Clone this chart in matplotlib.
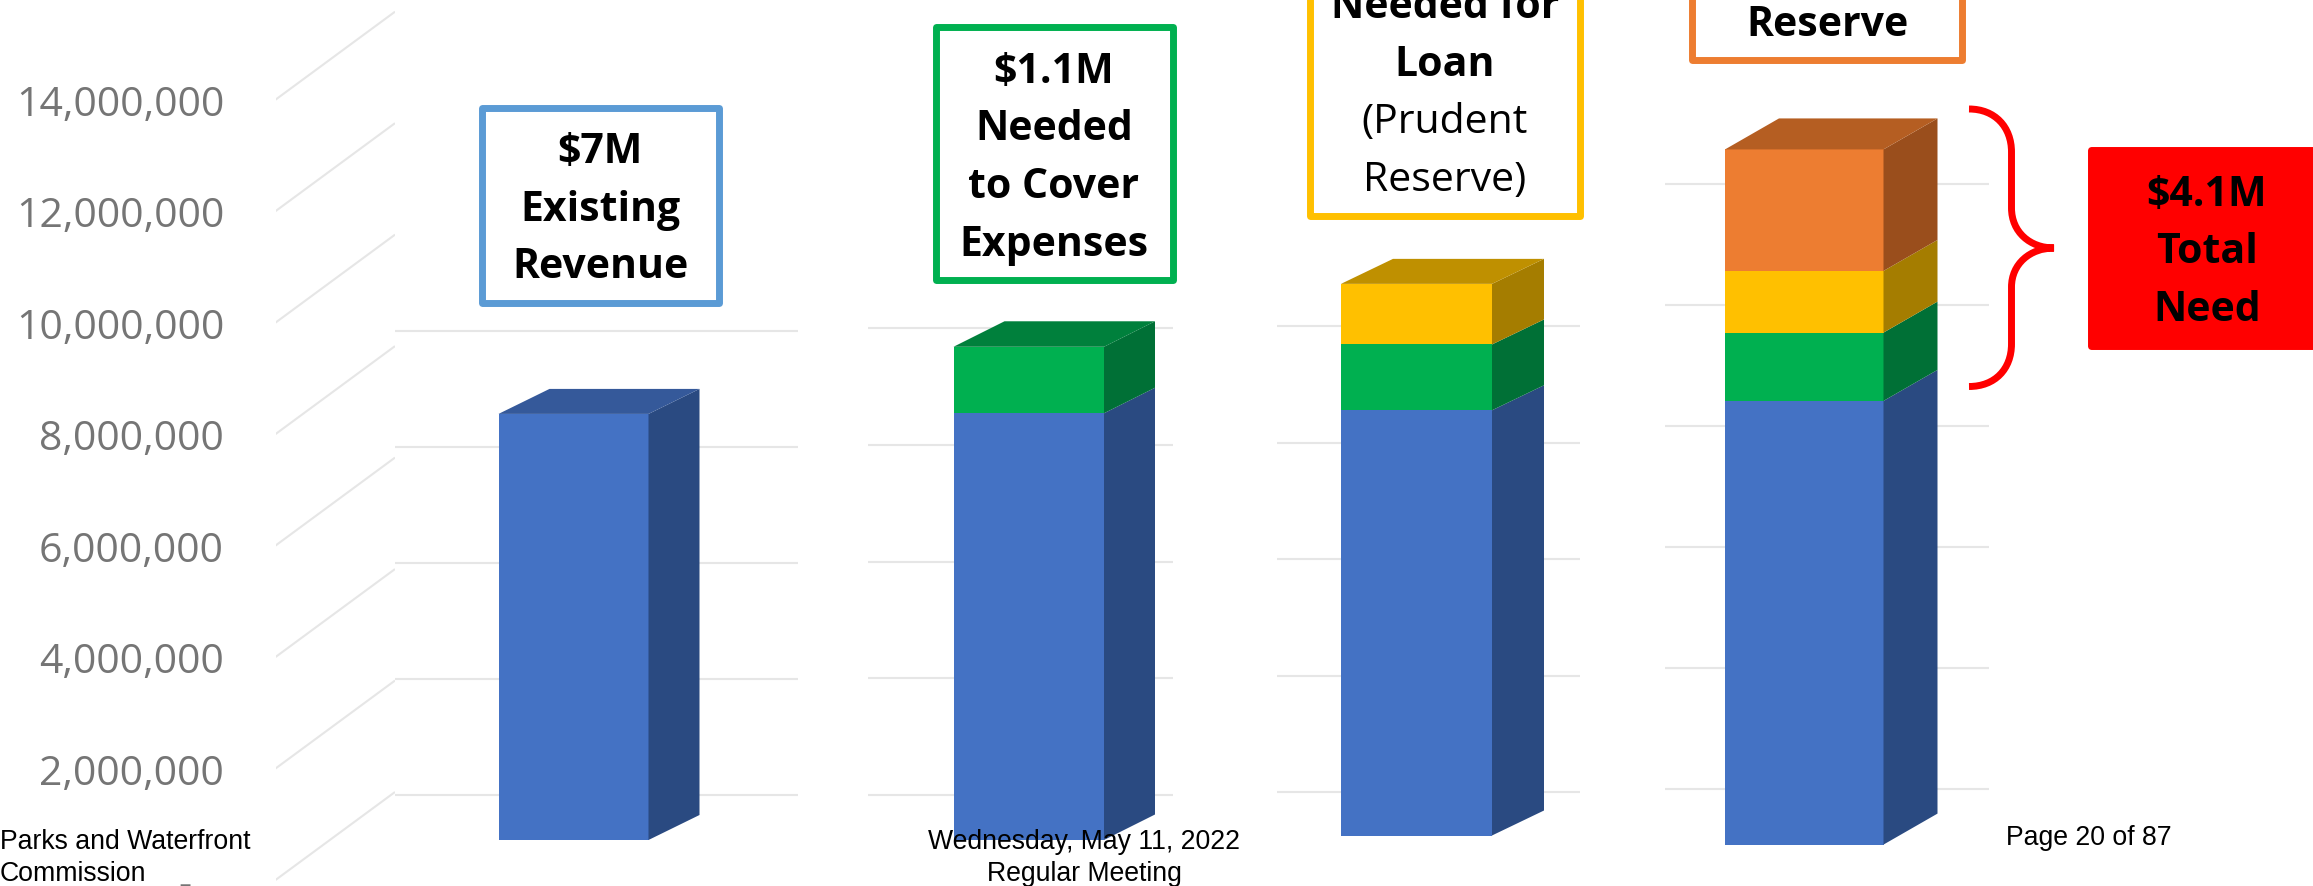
import numpy as np
import matplotlib
matplotlib.use("Agg")
import matplotlib.pyplot as plt
from matplotlib.patches import PathPatch, Rectangle
from matplotlib.path import Path

W, H = 2313, 887

# values, one entry per pasted chart
existing_revenue = [7340000, 7320000, 7300000, 7340000]
cover_expenses = [0, 1140000, 1130000, 1130000]
loan_reserve = [0, 0, 1040000, 1020000]
extra_reserve = [0, 0, 0, 2010000]

axis_ticks = [0, 2000000, 4000000, 6000000, 8000000, 10000000, 12000000, 14000000]
axis_labels = ["-   ", "2,000,000", "4,000,000", "6,000,000", "8,000,000",
               "10,000,000", "12,000,000", "14,000,000"]
panel_grid_ticks = [
    [0, 2000000, 4000000, 6000000, 8000000],
    [0, 2000000, 4000000, 6000000, 8000000],
    [0, 2000000, 4000000, 6000000, 8000000],
    [0, 2000000, 4000000, 6000000, 8000000, 10000000],
]

# layout of each pasted chart, in pixels from top left
# grid x0, grid x1, bar left, bar right, base y, wall zero y, px per 2M, depth x, depth y
panels = [
    (395, 798, 498.5, 648.5, 841, 796.4, 116.1, 51, 25),
    (868, 1173, 953.5, 1104, 841, 795.8, 116.6, 51, 25.5),
    (1277, 1580, 1341, 1492, 836.5, 793, 116.5, 52, 25),
    (1665, 1989, 1725, 1883.5, 845.6, 789.6, 120.9, 54, 31),
]

front_colors = ["#4472C4", "#00B050", "#FFC000", "#ED7D31"]
side_colors = ["#2A4A81", "#007036", "#A57D00", "#9A4E1C"]
top_colors = ["#35599A", "#00803C", "#BF9000", "#B55E22"]
GRID = "#E6E6E6"
TICK_GREY = "#757575"

fig = plt.figure(figsize=(W / 100, H / 100), dpi=100, facecolor="white")

# left axis with its slanted floor/wall lines
axis_x0, axis_x1 = 275.5, 395
axis_zero_y, axis_14m_y = 881, 100.7
axis_px = (axis_zero_y - axis_14m_y) / 14000000
ax0 = fig.add_axes([axis_x0 / W, 0, (axis_x1 - axis_x0) / W, 1])
ax0.set_xlim(axis_x0, axis_x1)
ax0.set_ylim((axis_zero_y - H) / axis_px, axis_zero_y / axis_px)
rise = 88 / axis_px
for t in axis_ticks:
    ax0.plot([axis_x0, axis_x1], [t, t + rise], color=GRID, lw=1.5, solid_capstyle="butt")
ax0.set_xticks([])
ax0.set_yticks(axis_ticks)
ax0.set_yticklabels(axis_labels, fontsize=29.5, color=TICK_GREY, family="Open Sans")
ax0.tick_params(axis="y", length=0, pad=37)
ax0.patch.set_alpha(0)
for s in ax0.spines.values():
    s.set_visible(False)

# the four stacked pseudo 3d bars
for i, p in enumerate(panels):
    gx0, gx1, bl, br, base, wall0, px2m, dx, dy = p
    per = px2m / 2000000
    ax = fig.add_axes([gx0 / W, 0, (gx1 - gx0) / W, 1])
    ax.set_xlim(gx0, gx1)
    ax.set_ylim((base - H) / per, base / per)
    ax.axis("off")
    lift = (base - wall0) / per
    ax.hlines(np.array(panel_grid_ticks[i]) + lift, gx0, gx1, color=GRID, lw=1.5, zorder=1)

    dv = dy / per
    bottom = 0
    series = [existing_revenue[i], cover_expenses[i], loan_reserve[i], extra_reserve[i]]
    for j, v in enumerate(series):
        if v == 0:
            continue
        ax.bar((bl + br) / 2, v, width=br - bl, bottom=bottom, color=front_colors[j],
               linewidth=0, zorder=3)
        ax.fill([br, br + dx, br + dx, br],
                [bottom, bottom + dv, bottom + v + dv, bottom + v],
                color=side_colors[j], linewidth=0, zorder=3)
        bottom += v
        top_col = top_colors[j]
    ax.fill([bl, bl + dx, br + dx, br], [bottom, bottom + dv, bottom + dv, bottom],
            color=top_col, linewidth=0, zorder=3)

# overlay for the callouts and page footer, pixel coordinates
ov = fig.add_axes([0, 0, 1, 1])
ov.set_xlim(0, W)
ov.set_ylim(H, 0)
ov.axis("off")
ov.patch.set_alpha(0)


def callout(x0, y0, x1, y1, edge, face="white"):
    ov.add_patch(Rectangle((x0, y0), x1 - x0, y1 - y0, facecolor=face, edgecolor=edge,
                           lw=5, joinstyle="round", clip_on=True))


def label(x, y, s, weight="bold"):
    ov.text(x, y + 4, s, ha="center", va="center", fontsize=29.5, fontweight=weight,
            family="Open Sans", color="black")


callout(482, 108.5, 719, 303.5, "#5B9BD5")
for y, s in zip([149, 206.5, 264], ["$7M", "Existing", "Revenue"]):
    label(600, y, s)

callout(936, 28, 1173, 281, "#00B050")
for y, s in zip([68, 125.5, 184, 241.5], ["$1.1M", "Needed", "to Cover", "Expenses"]):
    label(1054, y, s)

callout(1310, -20, 1579.5, 216.5, "#FFC000")
label(1445, 3, "Needed for")
label(1445, 61, "Loan")
label(1445, 119, "(Prudent", "normal")
label(1445, 176.5, "Reserve)", "normal")

callout(1691.5, -20, 1961.5, 60.5, "#ED7D31")
label(1827, 21, "Reserve")

callout(2091, 151, 2330, 347, "#FF0000", "#FF0000")
for y, s in zip([192, 249, 306.5], ["$4.1M", "Total", "Need"]):
    label(2207, y, s)

# red brace
brace = [(1969, 110), (1995, 110), (2011.5, 128), (2011.5, 153),
         (2011.5, 209), (2011.5, 233), (2030, 249), (2054, 249),
         (2030, 249), (2011.5, 265), (2011.5, 288),
         (2011.5, 345), (2011.5, 370), (1995, 387.5), (1969, 387.5)]
codes = [Path.MOVETO, Path.CURVE4, Path.CURVE4, Path.CURVE4,
         Path.LINETO, Path.CURVE4, Path.CURVE4, Path.CURVE4,
         Path.CURVE4, Path.CURVE4, Path.CURVE4,
         Path.LINETO, Path.CURVE4, Path.CURVE4, Path.CURVE4]
ov.add_patch(PathPatch(Path(brace, codes), facecolor="none", edgecolor="#FF0000", lw=5))

# page footer
foot = dict(fontsize=19.2, family="Liberation Sans", color="black", va="center")
ov.text(0, 841.6, "Parks and Waterfront", ha="left", **foot)
ov.text(0, 874, "Commission", ha="left", **foot)
ov.text(1084, 841.6, "Wednesday, May 11, 2022", ha="center", **foot)
ov.text(1084, 874, "Regular Meeting", ha="center", **foot)
ov.text(2006, 838, "Page 20 of 87", ha="left", **foot)

fig.savefig("out.png", dpi=100, facecolor="white")
